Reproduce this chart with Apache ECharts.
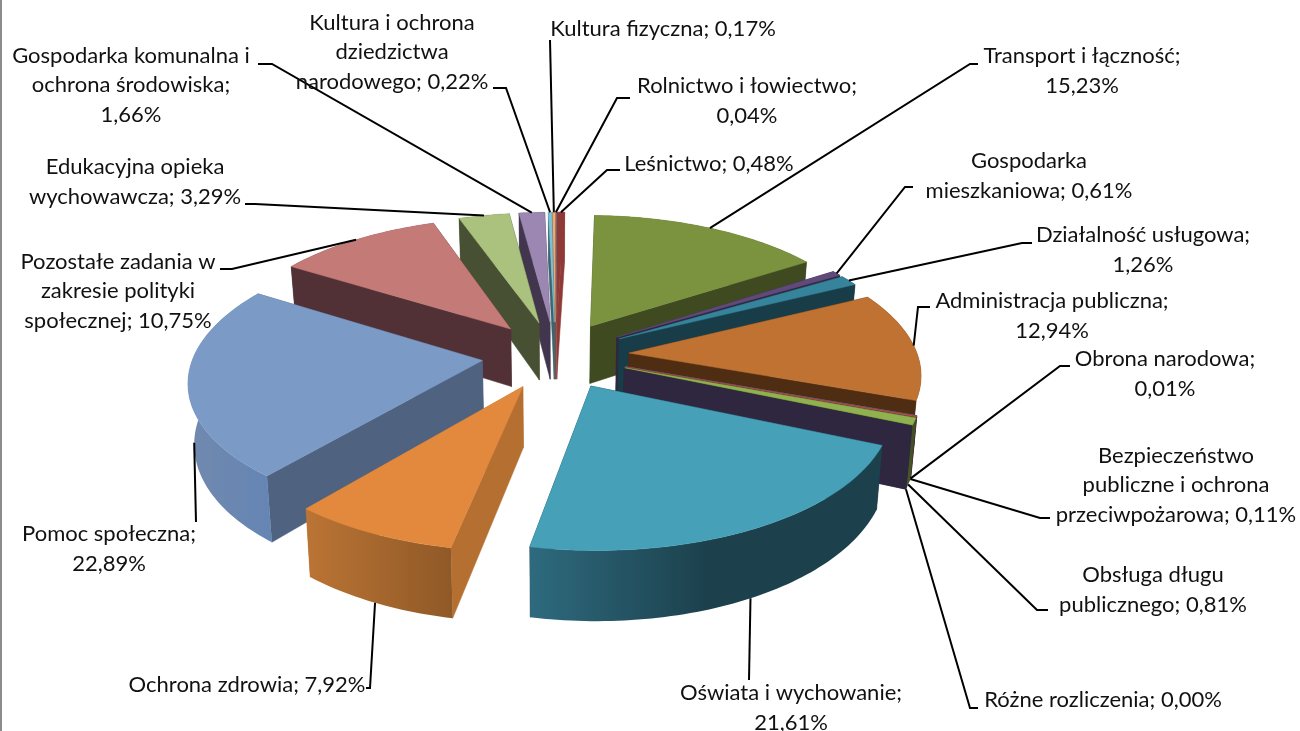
<!DOCTYPE html>
<html>
<head>
<meta charset="UTF-8">
<title>Wydatki</title>
<style>
html, body { margin: 0; padding: 0; background: #fff; }
#container { width: 1300px; height: 731px; }
</style>
</head>
<body>
<div id="container"></div>
<script src="https://cdn.jsdelivr.net/npm/echarts@6/dist/echarts.min.js"></script>
<script>
// label text before the value; the last char says if the value goes on a new line
var names = [
	'Rolnictwo i łowiectwo;\n', 'Leśnictwo; ', 'Transport i łączność;\n', 'Gospodarka\nmieszkaniowa; ',
	'Działalność usługowa;\n', 'Administracja publiczna;\n', 'Obrona narodowa;\n',
	'Bezpieczeństwo\npubliczne i ochrona\nprzeciwpożarowa; ', 'Obsługa długu\npublicznego; ',
	'Różne rozliczenia; ', 'Oświata i wychowanie;\n', 'Ochrona zdrowia; ', 'Pomoc społeczna;\n',
	'Pozostałe zadania w\nzakresie polityki\nspołecznej; ', 'Edukacyjna opieka\nwychowawcza; ',
	'Gospodarka komunalna i\nochrona środowiska;\n', 'Kultura i ochrona\ndziedzictwa\nnarodowego; ',
	'Kultura fizyczna; '
];
var values = [0.04, 0.48, 15.23, 0.61, 1.26, 12.94, 0.01, 0.11, 0.81, 0.00, 21.61, 7.92, 22.89, 10.75, 3.29, 1.66, 0.22, 0.17];

// colours: top face, cut side, outer wall left, outer wall right
var topColors = ['#4a7ab3', '#8f3a37', '#7b933f', '#604a7b', '#35849c', '#bf7231', '#4f81bd', '#b5504d', '#8fb14f', '#7a5f9b', '#45a0b8', '#e3893e', '#7b9ac6', '#c47b78', '#abc27f', '#9b87b2', '#7cc1d6', '#f5a86b'];
var sideColors = ['#2c4766', '#8f3a37', '#3f4a20', '#30263f', '#183c48', '#4f2d12', '#27405e', '#5c2827', '#475b28', '#2f2640', '#183c48', '#b57031', '#4f6280', '#513135', '#475032', '#41364e', '#3f6370', '#80563a'];
var wallFrom = ['#2c4766', '#8f3a37', '#3f4a20', '#30263f', '#183c48', '#4f2d12', '#27405e', '#5c2827', '#475b28', '#2f2640', '#2e6a7e', '#bb7434', '#7189ae', '#513135', '#475032', '#41364e', '#3f6370', '#80563a'];
var wallTo = ['#2c4766', '#8f3a37', '#3f4a20', '#30263f', '#183c48', '#4f2d12', '#27405e', '#5c2827', '#3d4c20', '#2f2640', '#1c414d', '#8f5927', '#6585b4', '#513135', '#475032', '#41364e', '#3f6370', '#80563a'];
// where along the wall the right colour is reached
var wallStops = [1, 1, 1, 1, 1, 1, 1, 1, 1, 1, 0.5, 1, 1, 1, 1, 1, 1, 1];

// label centre and the two bends of each leader line
var labelPos = [[747, 101], [709, 164], [1082, 71], [1029, 176], [1143, 250], [1052, 316], [1165, 374], [1176, 485], [1153, 590], [1103, 700], [791, 708], [247, 685], [109, 549], [118, 291], [135, 182], [131, 85], [392, 52], [663, 29]];
var leaderBends = [
	[[617, 98], [630, 98]], [[607, 170], [620, 170]], [[970, 64], [978, 64]], [[905, 187], [913, 187]],
	[[1022, 243], [1032, 243]], [[918, 307], [930, 307]], [[1060, 366], [1070, 366]], [[1040, 518], [1050, 518]],
	[[1037, 610], [1048, 610]], [[970, 708], [978, 708]], [[749, 680], [749, 680]], [[370, 688], [366, 688]],
	[[196, 522], [196, 522]], [[232, 269], [220, 269]], [[255, 204], [245, 204]], [[272, 64], [258, 64]],
	[[506, 88], [493, 88]], [[550, 40], [550, 40]]
];

// camera of the 3D pie
var cx = 555.5, cy = 355, sx = 295, ky = 136, persp = 0.138, depth = 59, radius = 0.978, explode = 0.25, taper = 0.017;

function project(X, Z, low) {
	var d = 1 - persp * Z;
	var sc = low ? 1 - taper : 1;
	return [cx + X * sx / d * sc, cy + (Z * ky + (low ? depth : 0)) / d];
}

var total = 0;
for (var n = 0; n < values.length; n++) total += values[n];

var slices = [];
var acc = 0;
for (var i = 0; i < values.length; i++) {
	var a0 = acc / total * Math.PI * 2;
	acc += values[i];
	var a1 = acc / total * Math.PI * 2;
	var mid = (a0 + a1) / 2;
	slices.push({ a0: a0, a1: a1, mid: mid, ox: Math.sin(mid) * explode, oz: -Math.cos(mid) * explode });
}

// back slices are painted first
var order = slices.map(function (s, i) { return i; }).sort(function (a, b) {
	return slices[a].oz - slices[b].oz;
});
var rank = [];
order.forEach(function (idx, r) { rank[idx] = r; });

function rimPoint(s, t, low) {
	return project(s.ox + Math.sin(t) * radius, s.oz - Math.cos(t) * radius, low);
}

function arcPoints(s, low) {
	var pts = [];
	var steps = Math.max(2, Math.ceil((s.a1 - s.a0) / 0.02));
	for (var k = 0; k <= steps; k++) {
		pts.push(rimPoint(s, s.a0 + (s.a1 - s.a0) * k / steps, low));
	}
	return pts;
}

function renderSlice(params, api) {
	var i = params.dataIndex;
	var s = slices[i];
	var base = rank[i] * 10 + 1;
	var top = arcPoints(s, false);
	var bottom = arcPoints(s, true);
	var apexTop = project(s.ox, s.oz, false);
	var apexLow = project(s.ox, s.oz, true);
	var children = [];
	var last = top.length - 1;

	children.push({
		type: 'polygon', z2: base,
		shape: { points: [apexTop, top[0], bottom[0], apexLow] },
		style: { fill: sideColors[i], stroke: sideColors[i], lineWidth: 0.5 }
	});
	children.push({
		type: 'polygon', z2: base,
		shape: { points: [apexTop, top[last], bottom[last], apexLow] },
		style: { fill: sideColors[i], stroke: sideColors[i], lineWidth: 0.5 }
	});

	var xs = top.concat(bottom).map(function (p) { return p[0]; });
	var xMin = Math.min.apply(null, xs), xMax = Math.max.apply(null, xs);
	children.push({
		type: 'polygon', z2: base + 1,
		shape: { points: top.concat(bottom.slice().reverse()) },
		style: {
			fill: {
				type: 'linear', x: xMin, y: 0, x2: xMax + 0.01, y2: 0, global: true,
				colorStops: [{ offset: 0, color: wallFrom[i] }, { offset: wallStops[i], color: wallTo[i] }, { offset: 1, color: wallTo[i] }]
			}
		}
	});
	if (api.value(0) > 0) {
		children.push({
			type: 'polygon', z2: base + 2,
			shape: { points: [apexTop].concat(top) },
			style: { fill: topColors[i], stroke: topColors[i], lineWidth: 0.5 }
		});
	}

	// leader goes to the rim at the middle of the slice, lower rim for the front half
	var front = Math.cos(s.mid) < 0;
	children.push({
		type: 'polyline', z2: 1000,
		shape: { points: [rimPoint(s, s.mid, front)].concat(leaderBends[i]) },
		style: { fill: null, stroke: '#000', lineWidth: 2 }
	});
	children.push({
		type: 'text', z2: 1001,
		style: {
			x: labelPos[i][0], y: labelPos[i][1], text: names[i] + values[i].toFixed(2).replace('.', ',') + '%',
			fill: '#111', align: 'center', verticalAlign: 'middle', lineHeight: 29.5,
			font: '22px Lato'
		}
	});
	return { type: 'group', children: children };
}

var myChart = echarts.init(document.getElementById('container'));
myChart.setOption({
	animation: false,
	backgroundColor: '#fff',
	graphic: [{ type: 'rect', left: 0, top: 0, shape: { width: 2, height: 731 }, style: { fill: '#8c8c8c' } }],
	series: [{
		type: 'custom',
		coordinateSystem: 'none',
		silent: true,
		renderItem: renderSlice,
		data: values.map(function (v) { return [v]; })
	}]
});
</script>
</body>
</html>
